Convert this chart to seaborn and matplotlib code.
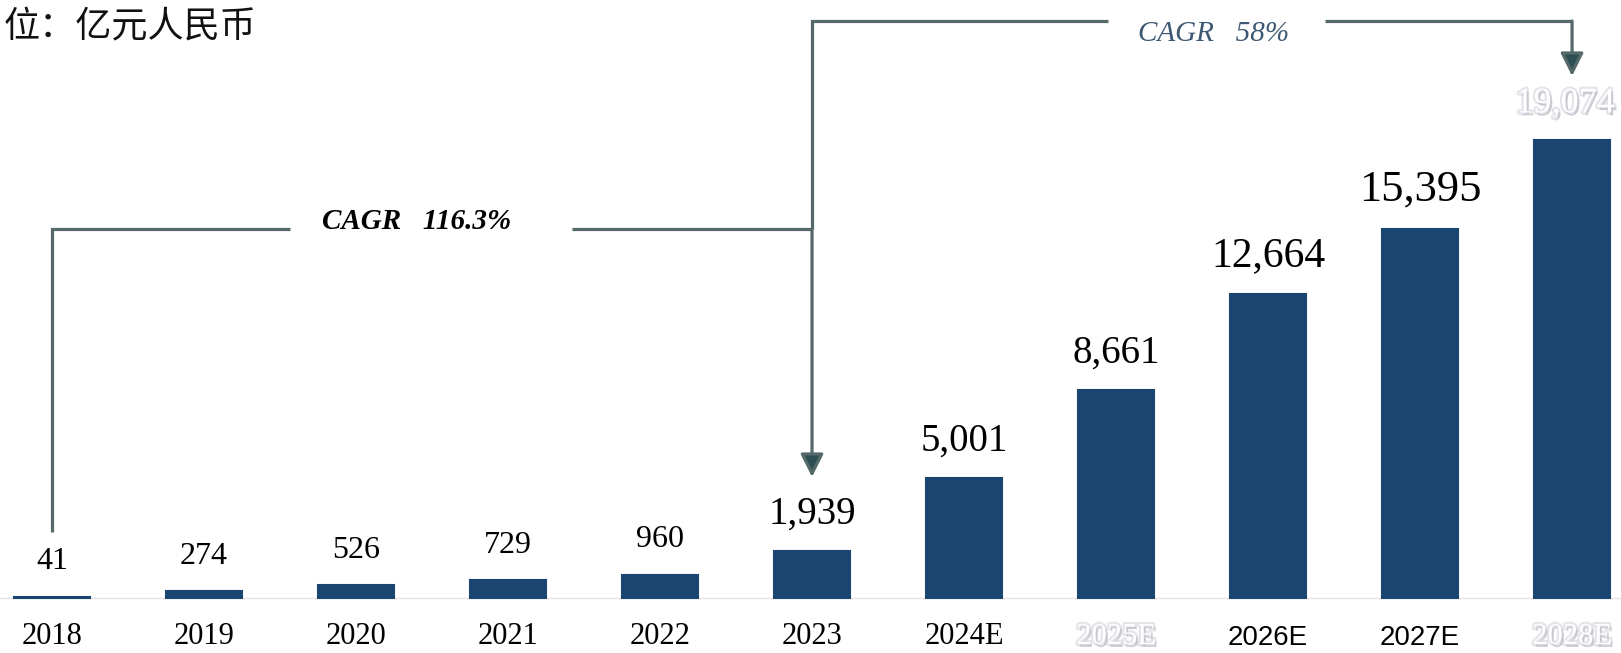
import matplotlib
matplotlib.use("Agg")
import matplotlib.pyplot as plt
import matplotlib.patheffects as pe
from matplotlib.transforms import blended_transform_factory
import seaborn as sns

# Market size by year (亿元人民币), E = estimate
years = ["2018", "2019", "2020", "2021", "2022", "2023",
         "2024E", "2025E", "2026E", "2027E", "2028E"]
market_size = [41, 274, 526, 729, 960, 1939, 5001, 8661, 12664, 15395, 19074]
unit_label = "位：亿元人民币"
cagr_hist = "CAGR   116.3%"
cagr_fcst = "CAGR   58%"

# Styling
bar_color = "#1b4571"
line_color = "#55686a"
head_color = "#2c4f52"
value_sizes = [23, 23, 23, 23, 23, 28, 28, 28, 30, 32, 26]
faded_ticks = {"2025E", "2028E"}
faded_values = {"2028E"}
sans_ticks = {"2026E", "2027E"}
serif = ["Liberation Serif", "DejaVu Serif"]
sans = ["Liberation Sans", "DejaVu Sans"]
fade_fx = [pe.SimplePatchShadow(offset=(1.5, -2), shadow_rgbFace="#8a8a95", alpha=0.45),
           pe.Stroke(linewidth=3, foreground="#c9cad4", alpha=0.5),
           pe.Normal()]

fig = plt.figure(figsize=(16.21, 6.53), dpi=100)
ax = fig.add_axes([0, 0, 1, 1])

sns.barplot(x=years, y=market_size, color=bar_color, width=0.5,
            edgecolor=bar_color, linewidth=1.5, saturation=1, ax=ax)

ax.set_xlim(-0.342, 10.322)
ax.set_ylim(-2292, 24917)
for s in ax.spines.values():
    s.set_visible(False)
ax.set_xticks([])
ax.set_yticks([])
ax.set_xlabel("")
ax.set_ylabel("")
ax.axhline(0, color="#e3e3e3", lw=1, zorder=0)

bt = blended_transform_factory(ax.transData, ax.transAxes)

# value labels above bars
for i, (yr, v) in enumerate(zip(years, market_size)):
    faded = yr in faded_values
    ax.annotate(f"{v:,}", xy=(i, v), xytext=(-5 if faded else 0, 20),
                textcoords="offset points",
                ha="center", va="baseline", fontsize=value_sizes[i],
                family=serif, color="white" if faded else "black",
                path_effects=fade_fx if faded else None)

# year labels along the bottom
for i, yr in enumerate(years):
    faded = yr in faded_ticks
    ax.text(i, 0.003, yr, transform=bt, ha="center", va="bottom",
            fontsize=20 if yr in sans_ticks else 22,
            family=sans if yr in sans_ticks else serif,
            color="white" if faded else "black",
            path_effects=fade_fx if faded else None)

# CAGR brackets
lw = 2.3
y_low = 1 - 229 / 653
y_top = 1 - 21 / 653
ax.plot([0, 0, 1.566], [1 - 532 / 653, y_low, y_low], color=line_color, lw=lw,
        transform=bt, solid_joinstyle="miter", solid_capstyle="butt")
ax.plot([3.421, 5], [y_low, y_low], color=line_color, lw=lw, transform=bt,
        solid_capstyle="butt")
ax.plot([5, 5, 6.947], [y_low, y_top, y_top], color=line_color, lw=lw,
        transform=bt, solid_joinstyle="miter", solid_capstyle="butt")
ax.plot([8.375, 10], [y_top, y_top], color=line_color, lw=lw, transform=bt,
        solid_capstyle="butt")

arrow_style = "-|>,head_length=0.7,head_width=0.35"
ax.annotate("", xy=(5, 1 - 477 / 653), xytext=(5, y_low), xycoords=bt, textcoords=bt,
            arrowprops=dict(arrowstyle=arrow_style, color=line_color, lw=lw,
                            mutation_scale=20, shrinkA=0, shrinkB=0,
                            fc=head_color, ec=line_color))
ax.annotate("", xy=(10, 1 - 76 / 653), xytext=(10, y_top), xycoords=bt, textcoords=bt,
            arrowprops=dict(arrowstyle=arrow_style, color=line_color, lw=lw,
                            mutation_scale=20, shrinkA=0, shrinkB=0,
                            fc=head_color, ec=line_color))

ax.text(2.40, 1 - 222 / 653, cagr_hist, transform=bt, ha="center", va="center",
        fontsize=21, family=serif, style="italic", weight="bold", color="black")
ax.text(7.64, 1 - 34 / 653, cagr_fcst, transform=bt, ha="center", va="center",
        fontsize=21, family=serif, style="italic", color="#3d5872")

fig.text(0.002, 1 - 27 / 653, unit_label, ha="left", va="center", fontsize=26,
         family=["Noto Sans CJK SC", "DejaVu Sans"], color="#111111")

fig.savefig("out.png", dpi=100)
